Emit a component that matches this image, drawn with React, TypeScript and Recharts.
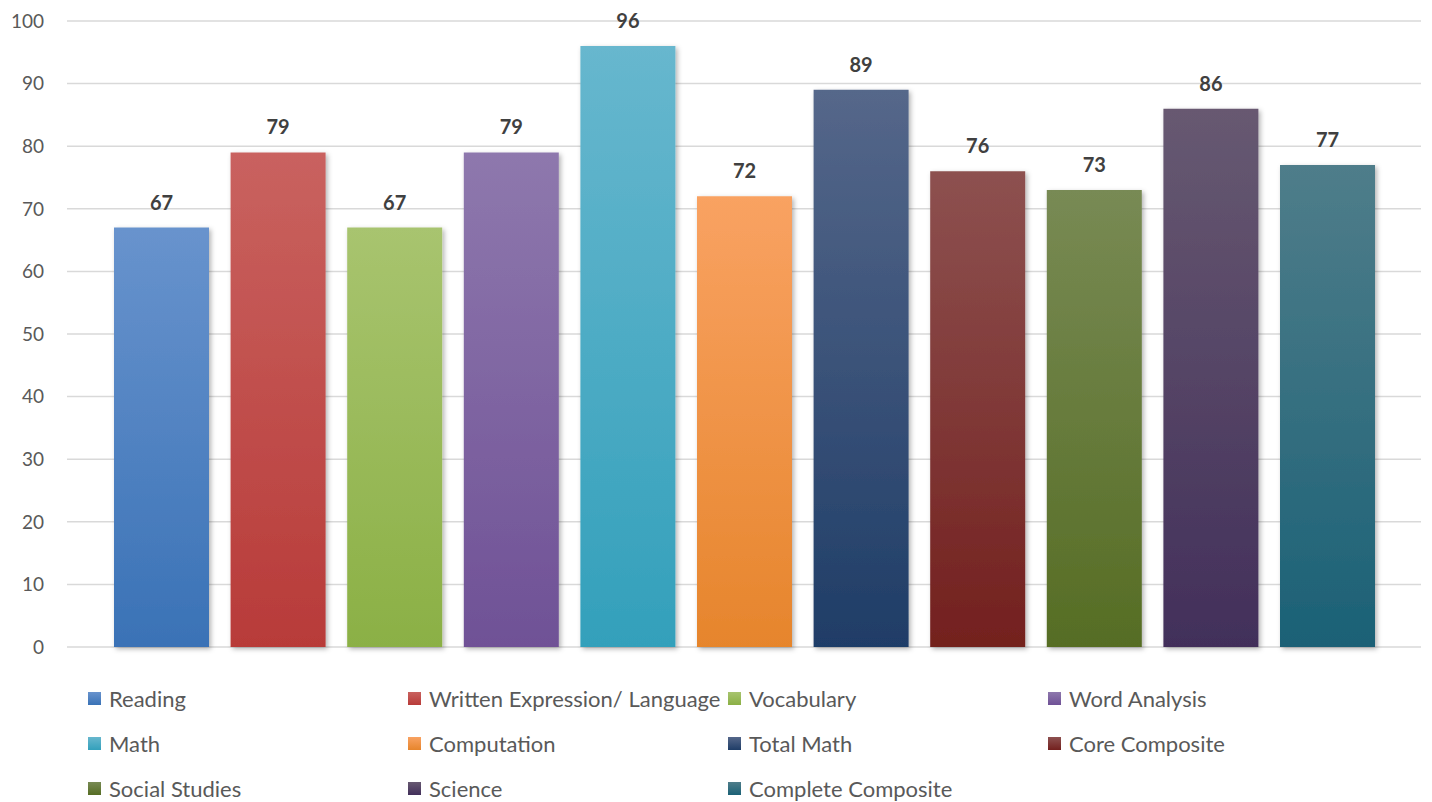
import React from "react";
import {
  Bar,
  BarChart,
  CartesianGrid,
  LabelList,
  Legend,
  XAxis,
  YAxis,
} from "recharts";

const categories = [
  "Reading",
  "Written Expression/ Language",
  "Vocabulary",
  "Word Analysis",
  "Math",
  "Computation",
  "Total Math",
  "Core Composite",
  "Social Studies",
  "Science",
  "Complete Composite",
];
const scores = [67, 79, 67, 79, 96, 72, 89, 76, 73, 86, 77];
const topColors = [
  "#6893cd", "#c9625f", "#a8c46f", "#8e78ad", "#67b7ce", "#f9a262",
  "#55678a", "#8d5150", "#788a54", "#675971", "#4f7d8a",
];
const bottomColors = [
  "#3a72b6", "#b83b39", "#8bb045", "#6f5196", "#33a0bb", "#e6852c",
  "#1f3d67", "#73201e", "#566d24", "#422f5a", "#1b6176",
];
const yTicks = [0, 10, 20, 30, 40, 50, 60, 70, 80, 90, 100];

const row: Record<string, number | string> = { name: "Scores" };
categories.forEach((c, i) => {
  row[c] = scores[i];
});
const data = [row];

const FONT = "Lato, 'Open Sans', sans-serif";

function LegendGrid() {
  return (
    <div
      style={{
        display: "grid",
        gridTemplateColumns: "320px 320px 320px 320px",
        gridAutoRows: "45px",
        paddingLeft: 88,
        fontFamily: FONT,
        fontSize: 22,
        color: "#595959",
      }}
    >
      {categories.map((c, i) => (
        <div
          key={c}
          style={{ display: "flex", alignItems: "center", whiteSpace: "nowrap" }}
        >
          <span
            style={{
              display: "inline-block",
              width: 13,
              height: 13,
              marginRight: 8,
              background: `linear-gradient(${topColors[i]}, ${bottomColors[i]})`,
            }}
          />
          {c}
        </div>
      ))}
    </div>
  );
}

export default function App() {
  return (
    <div style={{ position: "absolute", left: 0, top: 0, background: "#fff" }}>
      <BarChart
        width={1432}
        height={802}
        data={data}
        margin={{ top: 21, right: 11, left: 0, bottom: 20 }}
        barSize={95}
        barGap={21.6}
      >
        <defs>
          {categories.map((c, i) => (
            <linearGradient key={c} id={`grad-${i}`} x1="0" y1="0" x2="0" y2="1">
              <stop offset="0%" stopColor={topColors[i]} />
              <stop offset="100%" stopColor={bottomColors[i]} />
            </linearGradient>
          ))}
          <filter id="shadow" x="-10%" y="-10%" width="130%" height="130%">
            <feDropShadow dx="2" dy="2" stdDeviation="2.5" floodColor="#000" floodOpacity="0.3" />
          </filter>
        </defs>
        <CartesianGrid vertical={false} stroke="#d9d9d9" strokeWidth={1.5} />
        <XAxis dataKey="name" hide />
        <YAxis
          width={67}
          domain={[0, 100]}
          ticks={yTicks}
          interval={0}
          axisLine={false}
          tickLine={false}
          tickSize={0}
          tickMargin={23}
          tick={{ fill: "#595959", fontSize: 19, fontFamily: FONT }}
        />
        <Legend
          layout="horizontal"
          align="center"
          verticalAlign="bottom"
          wrapperStyle={{ left: 0, top: 676, width: 1432, height: 135 }}
          content={() => <LegendGrid />}
        />
        {categories.map((c, i) => (
          <Bar
            key={c}
            dataKey={c}
            fill={`url(#grad-${i})`}
            filter="url(#shadow)"
            isAnimationActive={false}
          >
            <LabelList
              dataKey={c}
              position="top"
              offset={18}
              fill="#404040"
              fontSize={20}
              fontWeight="bold"
              fontFamily={FONT}
            />
          </Bar>
        ))}
      </BarChart>
    </div>
  );
}
